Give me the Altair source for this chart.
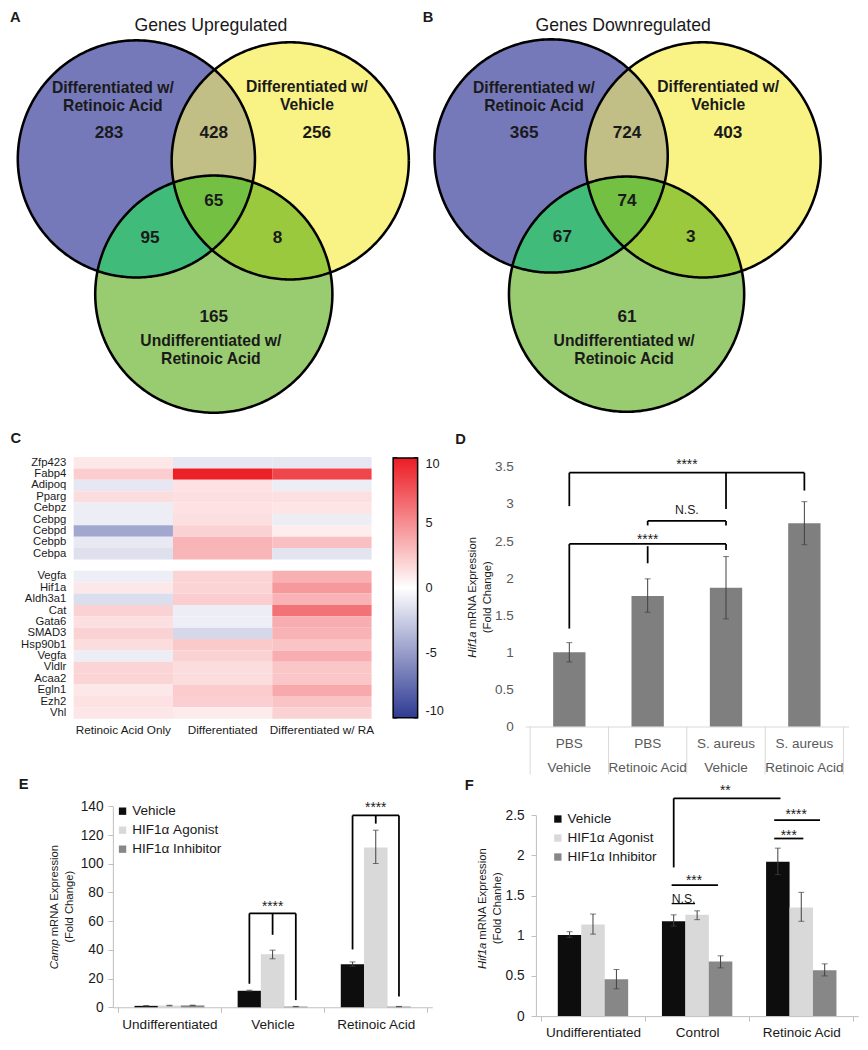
import numpy as np
import pandas as pd
import altair as alt

alt.data_transformers.disable_max_rows()

S = 0.98


def P(v):
    return round(v * S, 2)


FONT = "Liberation Sans"
INK = "#1a1a1a"

# ======================= DATA =======================
# A / B  Venn diagrams
venn_regions = ["P", "Y", "G", "PY", "PG", "YG", "PYG"]
up_counts = [283, 256, 165, 428, 95, 8, 65]
down_counts = [365, 403, 61, 724, 67, 3, 74]
venn_titles = ["Genes Upregulated", "Genes Downregulated"]
venn_letters = ["A", "B"]
set_keys = ["P", "Y", "G"]
set_line1 = ["Differentiated w/", "Differentiated w/", "Undifferentiated w/"]
set_line2 = ["Retinoic Acid", "Vehicle", "Retinoic Acid"]

# C heatmap
genes_top = ["Zfp423", "Fabp4", "Adipoq", "Pparg", "Cebpz", "Cebpg", "Cebpd", "Cebpb", "Cebpa"]
genes_bottom = ["Vegfa", "Hif1a", "Aldh3a1", "Cat", "Gata6", "SMAD3", "Hsp90b1", "Vegfa",
                "Vldlr", "Acaa2", "Egln1", "Ezh2", "Vhl"]
heat_conditions = ["Retinoic Acid Only", "Differentiated", "Differentiated w/ RA"]
heat_ra_only = [1.0, 2.2, -1.2, 1.5, -0.9, -0.9, -4.5, -1.1, -1.6,
                -0.8, 1.0, -1.7, 2.0, 1.4, 2.0, 1.5, -0.9, 1.9, 1.9, 1.0, 1.3, 1.1]
heat_diff = [-1.2, 9.8, 1.3, 1.4, 1.3, 1.4, 2.0, 3.3, 3.2,
             1.9, 1.9, 2.2, -0.9, -0.8, -2.0, 2.4, 2.0, 1.5, 1.5, 2.3, 2.1, 0.9]
heat_diff_ra = [-1.2, 8.2, -0.9, 1.4, 1.2, -0.9, 0.8, 2.8, -1.4,
                3.5, 4.5, 3.4, 6.2, 3.6, 3.4, 2.6, 3.6, 2.5, 2.5, 3.8, 2.6, 2.0]
heat_ticks = [-10, -5, 0, 5, 10]

# D
d_infection = ["PBS", "PBS", "S. aureus", "S. aureus"]
d_treatment = ["Vehicle", "Retinoic Acid", "Vehicle", "Retinoic Acid"]
d_mean = [1.00, 1.76, 1.87, 2.74]
d_lo = [0.87, 1.54, 1.45, 2.45]
d_hi = [1.13, 1.99, 2.29, 3.03]

# E
series_names = ["Vehicle", "HIF1\u03b1 Agonist", "HIF1\u03b1 Inhibitor"]
e_groups = ["Undifferentiated", "Vehicle", "Retinoic Acid"]
e_mean = [[1.0, 11.5, 30.0], [1.2, 37.0, 111.3], [1.3, 0.5, 0.5]]
e_lo = [[0.8, 11.2, 28.6], [1.0, 33.8, 100.2], [1.1, 0.4, 0.4]]
e_hi = [[1.2, 11.9, 31.6], [1.4, 39.8, 123.4], [1.5, 0.6, 0.6]]

# F
f_groups = ["Undifferentiated", "Control", "Retinoic Acid"]
f_mean = [[1.01, 1.18, 1.92], [1.14, 1.26, 1.35], [0.46, 0.68, 0.57]]
f_lo = [[0.98, 1.12, 1.76], [1.02, 1.20, 1.18], [0.34, 0.60, 0.50]]
f_hi = [[1.05, 1.26, 2.09], [1.27, 1.31, 1.54], [0.58, 0.75, 0.65]]

# significance annotations (data units)
d_hsegs = [(0.5, 3.5, 3.42), (1.5, 2.5, 2.77), (0.5, 2.5, 2.46)]
d_vsegs = [(0.5, 3.42, 2.97), (2.5, 3.42, 2.93), (3.5, 3.42, 3.18), (1.5, 2.77, 2.71),
           (2.5, 2.77, 2.71), (0.5, 2.46, 1.32), (2.5, 2.46, 2.38), (1.5, 2.43, 2.20)]
d_stars = [("****", 2.0, 3.57), ("****", 1.5, 2.56)]
d_plain = [("N.S.", 2.0, 2.92)]

e_hsegs = [(1.275, 1.725, 65.4), (2.275, 2.725, 133.7)]
e_vsegs = [(1.275, 65.4, 16.4), (1.725, 65.4, 5.0), (1.5, 65.4, 50.5),
           (2.275, 133.7, 40.3), (2.725, 133.7, 7.5), (2.5, 133.7, 128.0)]
e_stars = [("****", 1.5, 72.4), ("****", 2.5, 141.0)]

f_hsegs = [(1.275, 2.30, 2.71), (2.24, 2.68, 2.44), (2.24, 2.52, 2.21), (1.255, 1.70, 1.63)]
f_thin = [(1.255, 1.48, 1.40)]
f_vsegs = [(1.275, 2.71, 1.85)]
f_stars = [("**", 1.77, 2.85), ("****", 2.45, 2.55), ("***", 2.38, 2.29), ("***", 1.47, 1.73)]
f_plain = [("N.S.", 1.37, 1.46)]

# ======================= STYLE / LAYOUT =======================
region_colors = {"P": "#7579b9", "Y": "#f9f285", "G": "#99cc70", "PY": "#c1be86",
                 "PG": "#40bb7a", "YG": "#9ac93e", "PYG": "#73c043"}
venn_draw_order = ["P", "Y", "PY", "G", "PG", "YG", "PYG"]
venn_layout = [
    dict(circles={"P": (131, 154, 121), "Y": (288, 156, 121), "G": (210, 292, 121)},
         counts={"P": (103, 128), "Y": (315, 128), "G": (210, 315), "PY": (210, 128),
                 "PG": (145, 235), "YG": (275, 235), "PYG": (210, 197)},
         names={"P": (107, 82), "Y": (305, 81), "G": (207, 340)},
         title=(207, 18), letter=(7.5, 10)),
    dict(circles={"P": (119.5, 151, 119), "Y": (274.5, 155, 120), "G": (196.5, 292, 120)},
         counts={"P": (92, 128), "Y": (300, 128), "G": (197, 315), "PY": (197, 128),
                 "PG": (131, 234), "YG": (262, 234), "PYG": (197, 197)},
         names={"P": (102, 82), "Y": (290, 81), "G": (194, 340)},
         title=(193, 18), letter=(-6, 10)),
]
series_colors = ["#0d0d0d", "#d9d9d9", "#878787"]
OFF = 0.225
CELL_W = 434
HALF_TICK_HIDDEN = {"condition": {"test": "datum.value % 1 != 0", "value": 0}, "value": 1}
ONE = pd.DataFrame({"t": [0]})


def pix_text(text, x, y, **kw):
    return alt.Chart(ONE).mark_text(text=text, color=INK, **kw).encode(
        x=alt.value(P(x)), y=alt.value(P(y)))


def letter_layer(letter, x, y):
    return pix_text(letter, x, y, fontSize=P(15), fontWeight="bold")


def ytitle_layers(gene, rest, line2, x1, x2, yjoin, ymid, fs=11.5):
    return [
        pix_text(gene, x1, yjoin, angle=270, align="right", baseline="middle",
                 fontStyle="italic", fontSize=P(fs)),
        pix_text(rest, x1, yjoin, angle=270, align="left", baseline="middle",
                 fontSize=P(fs), dx=P(3)),
        pix_text(line2, x2, ymid, angle=270, align="center", baseline="middle", fontSize=P(fs)),
    ]


# ======================= VENN =======================
def region_polygon(circles, members, n=480):
    pts = []
    t = np.linspace(0, 2 * np.pi, n, endpoint=False)
    for m in members:
        cx, cy, r = circles[m]
        c = np.column_stack([cx + r * np.cos(t), cy + r * np.sin(t)])
        keep = np.ones(n, dtype=bool)
        for o in members:
            if o != m:
                ox, oy, orad = circles[o]
                keep &= (c[:, 0] - ox) ** 2 + (c[:, 1] - oy) ** 2 <= orad ** 2
        pts.append(c[keep])
    pts = np.vstack(pts)
    ctr = pts.mean(axis=0)
    ang = np.arctan2(pts[:, 1] - ctr[1], pts[:, 0] - ctr[0])
    return pts[np.argsort(ang)]


def venn_chart(i, counts):
    lay = venn_layout[i]
    circles = lay["circles"]
    X = alt.X("x:Q", scale=alt.Scale(domain=[0, 434], nice=False, zero=False), axis=None)
    Y = alt.Y("y:Q", scale=alt.Scale(domain=[0, 458], nice=False, zero=False, reverse=True),
              axis=None)
    poly_rows = []
    for reg in venn_draw_order:
        pts = region_polygon(circles, list(reg))
        for k, (x, y) in enumerate(pts):
            poly_rows.append({"region": reg, "k": k, "x": round(x, 2), "y": round(y, 2)})
    poly = pd.DataFrame(poly_rows)
    layers = []
    for reg in venn_draw_order:
        layers.append(alt.Chart(poly).transform_filter(alt.datum.region == reg).mark_line(
            filled=True, fill=region_colors[reg], strokeWidth=0).encode(x=X, y=Y, order="k:Q"))
    tt = np.linspace(0, 2 * np.pi, 361)
    out_rows = []
    for key, (cx, cy, r) in circles.items():
        for k, a in enumerate(tt):
            out_rows.append({"c": key, "k": k, "x": round(cx + r * np.cos(a), 2),
                             "y": round(cy + r * np.sin(a), 2)})
    layers.append(alt.Chart(pd.DataFrame(out_rows)).mark_line(
        color="black", strokeWidth=P(2.6)).encode(x=X, y=Y, order="k:Q", detail="c:N"))
    cdf = pd.DataFrame({"region": venn_regions, "n": [str(c) for c in counts],
                        "x": [lay["counts"][r][0] for r in venn_regions],
                        "y": [lay["counts"][r][1] for r in venn_regions]})
    layers.append(alt.Chart(cdf).mark_text(fontSize=P(17.5), fontWeight="bold", color=INK)
                  .encode(x=X, y=Y, text="n:N"))
    nrows = []
    for key, l1, l2 in zip(set_keys, set_line1, set_line2):
        x, y = lay["names"][key]
        nrows.append({"s": l1, "x": x, "y": y})
        nrows.append({"s": l2, "x": x, "y": y + 18})
    layers.append(alt.Chart(pd.DataFrame(nrows)).mark_text(
        fontSize=P(16), fontWeight="bold", color=INK).encode(x=X, y=Y, text="s:N"))
    tdf = pd.DataFrame({"s": [venn_titles[i]], "x": [lay["title"][0]], "y": [lay["title"][1]]})
    layers.append(alt.Chart(tdf).mark_text(fontSize=P(18), color=INK).encode(x=X, y=Y, text="s:N"))
    ldf = pd.DataFrame({"s": [venn_letters[i]], "x": [lay["letter"][0]], "y": [lay["letter"][1]]})
    layers.append(alt.Chart(ldf).mark_text(fontSize=P(15), fontWeight="bold", color=INK)
                  .encode(x=X, y=Y, text="s:N"))
    return alt.layer(*layers).properties(width=P(CELL_W), height=P(458))


vennA = venn_chart(0, up_counts)
vennB = venn_chart(1, down_counts)

# ======================= HEATMAP C =======================
row_labels = genes_top + [""] + genes_bottom
row_ids = [f"{k:02d}" for k in range(len(row_labels))]
data_ids = row_ids[:len(genes_top)] + row_ids[len(genes_top) + 1:]
genes_all = genes_top + genes_bottom
heat_records = []
for cond, vals in zip(heat_conditions, [heat_ra_only, heat_diff, heat_diff_ra]):
    for rid, g, v in zip(data_ids, genes_all, vals):
        heat_records.append({"rid": rid, "gene": g, "cond": cond, "value": v})
heat_df = pd.DataFrame(heat_records)
row_label_expr = "[" + ",".join(f"'{g}'" for g in row_labels) + "][toNumber(datum.value)]"
CB_X0, CB_X1, CB_TOP, CB_BOT = 393, 418, 1, 266

heat_rect = alt.Chart(heat_df).mark_rect().encode(
    x=alt.X("cond:N", scale=alt.Scale(domain=heat_conditions, range=[P(67), P(371)],
                                      paddingInner=0, paddingOuter=0),
            axis=alt.Axis(orient="bottom", title=None, ticks=False, domain=False, labelAngle=0,
                          offset=-P(8), labelPadding=P(6), labelFontSize=P(12), labelColor=INK)),
    y=alt.Y("rid:N", scale=alt.Scale(domain=row_ids, range=[0, P(267)],
                                     paddingInner=0, paddingOuter=0),
            axis=alt.Axis(title=None, ticks=False, domain=False, labelExpr=row_label_expr,
                          offset=-P(67), labelPadding=P(8), labelFontSize=11.3,
                          labelColor=INK)),
    color=alt.Color("value:Q",
                    scale=alt.Scale(domain=[-10, 0, 10], range=["#2e3b93", "#ffffff", "#ec1c24"],
                                    interpolate="rgb"),
                    legend=alt.Legend(orient="none", legendX=P(CB_X0), legendY=P(CB_TOP),
                                      direction="vertical", title=None,
                                      gradientLength=P(CB_BOT - CB_TOP),
                                      gradientThickness=P(CB_X1 - CB_X0),
                                      gradientStrokeColor="black",
                                      gradientStrokeWidth=1.5, values=heat_ticks,
                                      labelExpr="'' + datum.value",
                                      labelFontSize=P(13), labelColor=INK, labelOffset=P(8),
                                      labelOverlap=False, padding=0)),
)
# small black tick marks drawn on both edges of the colour bar
cb_scale = alt.Scale(domain=[-10, 10], range=[P(CB_BOT), P(CB_TOP)], nice=False, zero=False)
cb_ticks_df = pd.DataFrame({"v": heat_ticks})
cb_tick_layers = [
    alt.Chart(cb_ticks_df).mark_rule(color="black", strokeWidth=1.6).encode(
        x=alt.value(P(xa)), x2=alt.value(P(xb)),
        y=alt.Y("v:Q", scale=cb_scale, axis=None))
    for xa, xb in [(CB_X0, CB_X0 + 4), (CB_X1 - 4, CB_X1)]
]
heat = alt.layer(heat_rect, *cb_tick_layers, letter_layer("C", 8, -18)).resolve_scale(
    y="independent").properties(width=P(CELL_W), height=P(275))

# ======================= BAR D =======================
d_df = pd.DataFrame({"x": [k + 0.5 for k in range(len(d_mean))], "mean": d_mean,
                     "lo": d_lo, "hi": d_hi, "inf": d_infection, "trt": d_treatment})
D_TOP, D_BOT, D_MAX = 10, 275, 3.5
DXS = alt.Scale(domain=[0, len(d_mean)], range=[P(93), P(423)], nice=False, zero=False)
DYS = alt.Scale(domain=[0, D_MAX], range=[P(D_BOT), P(D_TOP)], nice=False)
d_xaxis = alt.Axis(values=[k * 0.5 for k in range(2 * len(d_mean) + 1)], labels=False,
                   ticks=False, domainColor="#d9d9d9", domainWidth=1, title=None, grid=False)
d_yaxis = alt.Axis(values=[k * 0.5 for k in range(8)], format="~r", domain=False, ticks=False,
                   offset=-P(93), labelPadding=P(12), labelFontSize=P(13.8),
                   labelColor="#595959", title=None, grid=False)
# category separator lines of the table-like x axis (49 px below the axis line)
d_sep = pd.DataFrame({"x": list(range(len(d_mean) + 1))})
d_sep["y1"] = 0.0
d_sep["y2"] = -49 * D_MAX / (D_BOT - D_TOP)


def DX(f):
    return alt.X(f, type="quantitative", scale=DXS, axis=d_xaxis)


def DY(f):
    return alt.Y(f, type="quantitative", scale=DYS, axis=d_yaxis)


def sig_layers(Xf, Yf, hsegs, vsegs, thin, stars, plain, lw=1.8):
    out = []
    if hsegs:
        out.append(alt.Chart(pd.DataFrame(hsegs, columns=["x1", "x2", "y"])).mark_rule(
            color="black", strokeWidth=P(lw)).encode(x=Xf("x1"), x2="x2", y=Yf("y")))
    if thin:
        out.append(alt.Chart(pd.DataFrame(thin, columns=["x1", "x2", "y"])).mark_rule(
            color="black", strokeWidth=P(1.3)).encode(x=Xf("x1"), x2="x2", y=Yf("y")))
    if vsegs:
        out.append(alt.Chart(pd.DataFrame(vsegs, columns=["x", "y1", "y2"])).mark_rule(
            color="black", strokeWidth=P(lw)).encode(x=Xf("x"), y=Yf("y1"), y2="y2"))
    if stars:
        out.append(alt.Chart(pd.DataFrame(stars, columns=["t", "x", "y"])).mark_text(
            fontSize=P(14), dy=P(3.5), color=INK).encode(x=Xf("x"), y=Yf("y"), text="t:N"))
    if plain:
        out.append(alt.Chart(pd.DataFrame(plain, columns=["t", "x", "y"])).mark_text(
            fontSize=P(12.5), color=INK).encode(x=Xf("x"), y=Yf("y"), text="t:N"))
    return out


d_layers = [
    alt.Chart(d_sep).mark_rule(color="#d9d9d9", strokeWidth=1).encode(
        x=DX("x"), y=DY("y1"), y2="y2"),
    alt.Chart(d_df).mark_bar(color="#7f7f7f", size=P(33), orient="vertical").encode(
        x=DX("x"), y=DY("mean")),
    alt.Chart(d_df).mark_rule(color="#404040", strokeWidth=1).encode(
        x=DX("x"), y=DY("lo"), y2="hi"),
    alt.Chart(d_df).transform_fold(["lo", "hi"], as_=["end", "v"]).mark_tick(
        orient="horizontal", size=P(6), thickness=1, color="#404040").encode(x=DX("x"), y=DY("v")),
    # two-row category labels of the table-like x axis
    alt.Chart(d_df).mark_text(fontSize=P(13.8), color="#595959", baseline="middle").encode(
        x=DX("x"), y=alt.value(P(D_BOT + 18)), text="inf:N"),
    alt.Chart(d_df).mark_text(fontSize=P(13.8), color="#595959", baseline="middle").encode(
        x=DX("x"), y=alt.value(P(D_BOT + 42)), text="trt:N"),
]
d_layers += sig_layers(DX, DY, d_hsegs, d_vsegs, [], d_stars, d_plain)
d_layers += ytitle_layers("Hif1a", "mRNA Expression", "(Fold Change)", 40, 55, 178, 143)
d_layers.append(letter_layer("D", 27, -17))
chartD = alt.layer(*d_layers).properties(width=P(CELL_W), height=P(275))


# ======================= GROUPED BARS E / F =======================
def grouped_chart(groups, mean, lo, hi, ymax, ystep, ylabpad, x0, x1, ytop, ybot,
                  hsegs, vsegs, thin, stars, plain, legend_xy, gene, line2,
                  tx1, tx2, tjoin, tmid, letter, letter_xy):
    rows = []
    for si, s in enumerate(series_names):
        for gi, g in enumerate(groups):
            rows.append({"series": s, "group": g, "x": gi + 0.5 + (si - 1) * OFF,
                         "mean": mean[si][gi], "lo": lo[si][gi], "hi": hi[si][gi]})
    df = pd.DataFrame(rows)
    n = len(groups)
    xs = alt.Scale(domain=[0, n], range=[P(x0), P(x1)], nice=False, zero=False)
    ys = alt.Scale(domain=[0, ymax], range=[P(ybot), P(ytop)], nice=False)
    arr = "[" + ",".join(f"'{g}'" for g in groups) + "]"
    xaxis = alt.Axis(values=[k * 0.5 for k in range(2 * n + 1)],
                     labelExpr=f"datum.value % 1 == 0 ? '' : {arr}[floor(datum.value)]",
                     tickOpacity=HALF_TICK_HIDDEN, tickSize=P(5), tickColor="#bfbfbf",
                     domainColor="#bfbfbf", labelPadding=P(5), labelFontSize=P(13.8),
                     labelColor=INK, labelAngle=0, labelBaseline="top", labelOverlap=False,
                     labelFlush=False, title=None, grid=False)
    nt = int(round(ymax / ystep))
    yaxis = alt.Axis(values=[round(k * ystep, 3) for k in range(nt + 1)], format="~r",
                     offset=-P(x0), tickSize=P(5), tickColor="#bfbfbf", domainColor="#bfbfbf",
                     labelPadding=P(ylabpad), labelFontSize=P(14), labelColor=INK,
                     title=None, grid=False)

    def Xf(f):
        return alt.X(f, type="quantitative", scale=xs, axis=xaxis)

    def Yf(f):
        return alt.Y(f, type="quantitative", scale=ys, axis=yaxis)

    layers = [
        alt.Chart(df).mark_bar(size=P(24), orient="vertical").encode(
            x=Xf("x"), y=Yf("mean"),
            color=alt.Color("series:N",
                            scale=alt.Scale(domain=series_names, range=series_colors),
                            legend=alt.Legend(orient="none", legendX=P(legend_xy[0]),
                                              legendY=P(legend_xy[1]), title=None,
                                              symbolType="square", symbolSize=P(7.5) ** 2,
                                              symbolStrokeWidth=0, labelFontSize=P(13.8),
                                              labelColor=INK, labelOffset=P(3),
                                              rowPadding=4, padding=0, labelLimit=300))),
        alt.Chart(df).mark_rule(color="#404040", strokeWidth=1).encode(
            x=Xf("x"), y=Yf("lo"), y2="hi"),
        alt.Chart(df).transform_fold(["lo", "hi"], as_=["end", "v"]).mark_tick(
            orient="horizontal", size=P(6), thickness=1, color="#404040").encode(
            x=Xf("x"), y=Yf("v")),
    ]
    layers += sig_layers(Xf, Yf, hsegs, vsegs, thin, stars, plain)
    layers += ytitle_layers(gene, "mRNA Expression", line2, tx1, tx2, tjoin, tmid)
    layers.append(letter_layer(letter, *letter_xy))
    return alt.layer(*layers).properties(width=P(CELL_W), height=P(ybot))


chartE = grouped_chart(e_groups, e_mean, e_lo, e_hi, 140, 20, 5, 107, 433, 81, 286,
                       e_hsegs, e_vsegs, [], e_stars, [], (110, 79),
                       "Camp", "(Fold Change)", 48, 63, 216.6, 183.5, "E", (16, 59))
chartF = grouped_chart(f_groups, f_mean, f_lo, f_hi, 2.5, 0.5, 7, 104, 433, 90, 295,
                       f_hsegs, f_vsegs, f_thin, f_stars, f_plain, (119.5, 87),
                       "Hif1a", "(Fold Chanhe)", 50, 65, 220, 185, "F", (36, 60))

# ======================= ASSEMBLY =======================
chart = alt.concat(vennA, vennB, heat, chartD, chartE, chartF, columns=2, spacing=0,
                   bounds="flush", align="each").resolve_scale(
    color="independent").resolve_legend(color="independent").properties(
    padding=0, background="white"
).configure_view(strokeWidth=0).configure_axis(
    labelFont=FONT, titleFont=FONT
).configure_legend(labelFont=FONT, titleFont=FONT).configure_text(font=FONT)

chart.save("out.html", embed_options={"renderer": "svg", "actions": False})
